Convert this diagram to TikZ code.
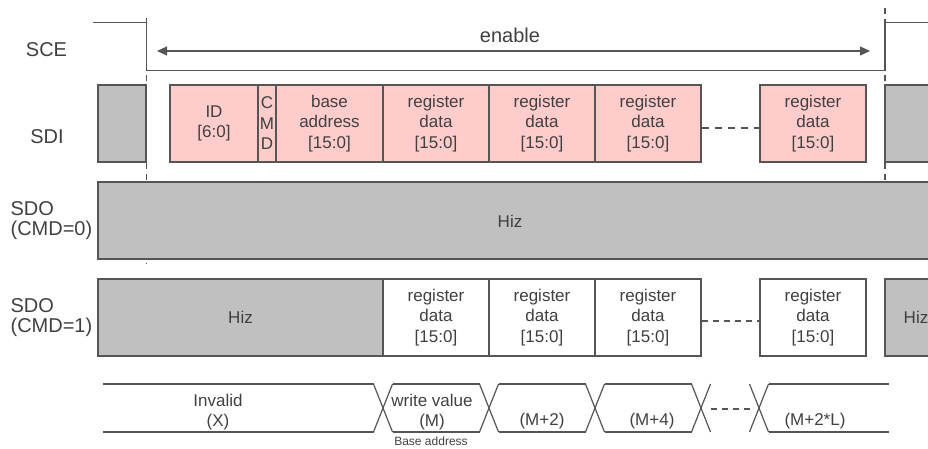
\documentclass[tikz,border=0pt]{standalone}
\usepackage{fontspec}
\setmainfont{Liberation Sans}
\usetikzlibrary{arrows.meta}
\definecolor{wire}{HTML}{555555}
\definecolor{txt}{HTML}{404040}
\definecolor{pinkfill}{HTML}{FFCCCC}
\definecolor{hizfill}{HTML}{C0C0C0}

\begin{document}
\begin{tikzpicture}[x=1pt, y=-1pt, line width=1.2pt, every node/.style={text=txt, font=\fontsize{17}{20.5}\selectfont, align=center, inner sep=0pt}, cell/.style={draw=wire, minimum height=77pt}, tx/.style={cell, fill=pinkfill}, rx/.style={cell, fill=white}, hz/.style={cell, fill=hizfill}, lbl/.style={font=\fontsize{20}{20}\selectfont}, tick/.style={draw=wire, dash pattern=on 6pt off 5pt}, dots/.style={draw=wire, dash pattern=on 7pt off 6pt}]
	\useasboundingbox (0,0) rectangle (928,449);
	\clip (0,0) rectangle (928,449);
	\draw[tick, dash phase=6pt] (146.5,70.5) -- (146.5,264);
	\draw[tick] (885,8) -- (885,20);
	\draw[tick, dash phase=6pt] (885,70.5) -- (885,182);
	\draw[wire] (93,22.7) -- (146.5,22.7);
	\draw[wire] (146.5,18) -- (146.5,70.5) -- (885,70.5) -- (885,20);
	\draw[wire] (885,22.7) -- (928,22.7);
	\coordinate (en1) at (157,51);
	\coordinate (en2) at (870,51);
	\draw[wire, {Triangle[length=10pt,width=9pt]}-{Triangle[length=10pt,width=9pt]}] (en1) -- (en2);
	\node[lbl] (en) at (510,35) {enable};
	\node[lbl] (sce) at (46.5,50) {SCE};
	\node[lbl] (sdi) at (47,137) {SDI};
	\node[lbl, align=left, anchor=west] (sdo0) at (10,221) {SDO\\(CMD=0)};
	\node[lbl, align=left, anchor=west] (sdo1) at (10,318) {SDO\\(CMD=1)};
	\node[hz, minimum width=48pt] (sdiA) at (122,123.5) {};
	\node[tx, minimum width=88pt] (id) at (214,123.5) {ID\\{[6:0]}};
	\node[tx, minimum width=18pt] (cmd) at (267,123.5) {C\\M\\D};
	\node[tx, minimum width=107pt] (base) at (329.5,123.5) {base\\address\\{[15:0]}};
	\foreach \n/\x in {wr1/436, wr2/542, wr3/648, wrL/813} {\node[tx, minimum width=106pt] (\n) at (\x,123.5) {register\\data\\{[15:0]}};}
	\node[hz, minimum width=62pt] (sdiB) at (916,123.5) {};
	\draw[dots] ([yshift=-4.5pt]wr3.east) -- ([yshift=-4.5pt]wrL.west);
	\node[hz, minimum width=850pt] (sdo0box) at (523,220.5) {};
	\node (hiz0) at (510,221) {Hiz};
	\node[hz, minimum width=285pt] (hizA) at (240.5,317.5) {Hiz};
	\foreach \n/\x in {rd1/436, rd2/542, rd3/648, rdL/813} {\node[rx, minimum width=106pt] (\n) at (\x,317.5) {register\\data\\{[15:0]}};}
	\node[hz, minimum width=62pt] (hizB) at (916,317.5) {Hiz};
	\draw[tick] ([yshift=-3.5pt]rd3.east) -- ([yshift=-3.5pt]rdL.west);
	\foreach \a/\b in {103/373.5, 392.5/479.5, 498.5/585.5, 604.5/691.5, 768.5/889} {\draw[wire] (\a,384) -- (\b,384); \draw[wire] (\a,432) -- (\b,432);}
	\foreach \c in {383, 489, 595, 701, 759} {\draw[wire] ({\c-9.5},384) -- ({\c+9.5},432); \draw[wire] ({\c-9.5},432) -- ({\c+9.5},384);}
	\coordinate (bd1) at (711,409);
	\coordinate (bd2) at (751,409);
	\draw[tick] (bd1) -- (bd2);
	\node (inv) at (218,412) {Invalid\\(X)};
	\node (wv) at (432,412) {write value\\(M)};
	\node[font=\fontsize{12}{12}\selectfont] (ba) at (431,441) {Base address};
	\node (m2) at (542,421) {(M+2)};
	\node (m4) at (652,421) {(M+4)};
	\node (mL) at (815,421) {(M+2*L)};
\end{tikzpicture}
\end{document}
